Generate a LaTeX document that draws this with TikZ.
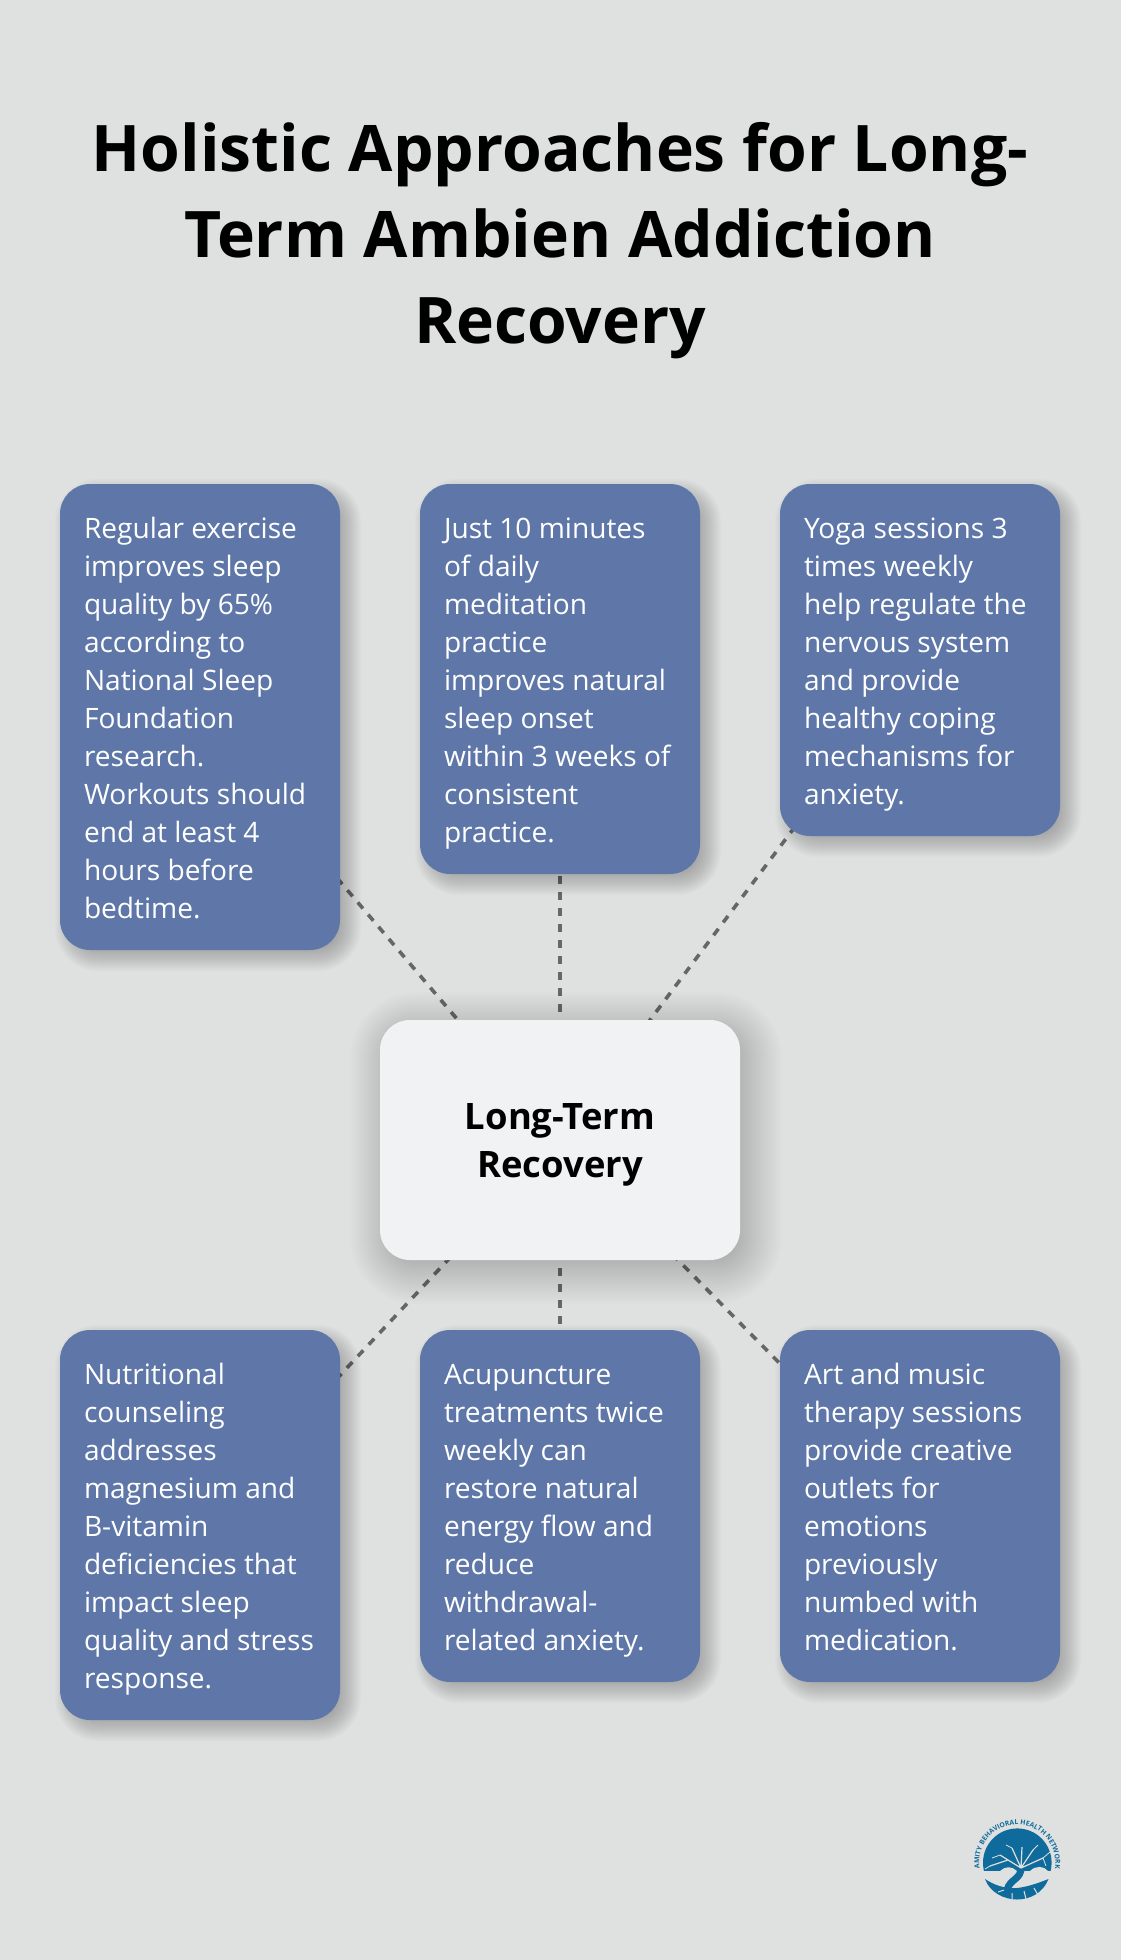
\documentclass[tikz,border=0pt]{standalone}
\usepackage{xcolor}
\usepackage{fontspec}
\setmainfont{Open Sans}
\usetikzlibrary{calc,decorations.text}
\definecolor{pagegray}{HTML}{DFE1E0}
\definecolor{cardblue}{HTML}{5E77A8}
\definecolor{hubwhite}{HTML}{F0F2F4}
\definecolor{linkgray}{HTML}{666666}
\definecolor{logoblue}{HTML}{0F6B9C}
\pgfdeclarelayer{background}
\pgfsetlayers{background,main}
% node name, shadow offset, half spread, step, opacity per step
\newcommand{\softshadow}[6]{%
  \foreach \s in {-#4,#5,...,#4}
    {\fill[black, opacity=#6, rounded corners=30pt+\s pt]
      ($(#1.north west)+(-\s+#2,-\s+#3)$) rectangle ($(#1.south east)+(\s+#2,\s+#3)$);}
}
\tikzset{
  cardbox/.style={anchor=north west, fill=cardblue, text=white, rounded corners=30pt, inner xsep=24pt, inner ysep=0pt,
    outer sep=0pt, text width=232pt, align=flush left, minimum width=280pt, minimum height=#1,
    font=\fontsize{28.1}{38}\selectfont,
    execute at begin node={\rule[-8pt]{0pt}{38pt}}, execute at end node={\rule[-8pt]{0pt}{38pt}}},
  hubbox/.style={anchor=north west, fill=hubwhite, text=black, rounded corners=30pt, inner sep=0pt, outer sep=0pt,
    text width=360pt, align=flush center, minimum width=360pt, minimum height=240pt,
    font=\fontsize{36.4}{48}\selectfont\bfseries,
    execute at begin node={\rule[-11pt]{0pt}{48pt}}, execute at end node={\rule[-11pt]{0pt}{48pt}}},
  linkdash/.style={linkgray, line width=3.6pt, dash pattern=on 8pt off 8pt},
}
\begin{document}
\begin{tikzpicture}[x=1pt, y=-1pt]
    \useasboundingbox (0,0) rectangle (1120,1960);
    \node[anchor=north, inner sep=0pt, text width=1000pt, align=flush center, font=\fontsize{64.2}{86}\selectfont\bfseries] (title) at (560,122)
        {Holistic Approaches for Long-\\Term Ambien Addiction\\Recovery};

    \node[cardbox=466pt] (exercise) at (60,484) {Regular exercise\\improves sleep\\quality by 65\%\\according to\\National Sleep\\Foundation\\research.\\Workouts should\\end at least 4\\hours before\\bedtime.};
    \node[cardbox=390pt] (meditation) at (420,484) {Just 10 minutes\\of daily\\meditation\\practice\\improves natural\\sleep onset\\within 3 weeks of\\consistent\\practice.};
    \node[cardbox=352pt] (yoga) at (780,484) {Yoga sessions 3\\times weekly\\help regulate the\\nervous system\\and provide\\healthy coping\\mechanisms for\\anxiety.};
    \node[hubbox] (hub) at (380,1020) {Long-Term\\Recovery};
    \node[cardbox=390pt] (nutrition) at (60,1330) {Nutritional\\counseling\\addresses\\magnesium and\\B-vitamin\\deficiencies that\\impact sleep\\quality and stress\\response.};
    \node[cardbox=352pt] (acupuncture) at (420,1330) {Acupuncture\\treatments twice\\weekly can\\restore natural\\energy flow and\\reduce\\withdrawal-\\related anxiety.};
    \node[cardbox=352pt] (art) at (780,1330) {Art and music\\therapy sessions\\provide creative\\outlets for\\emotions\\previously\\numbed with\\medication.};

    \begin{pgfonlayer}{background}
    \fill[pagegray] (-2,-2) rectangle (1122,1962);
    \foreach \card in {exercise,meditation,yoga,nutrition,acupuncture,art}
        \draw[linkdash] (hub.center) -- (\card.center);
    \foreach \card in {exercise,meditation,yoga,nutrition,acupuncture,art}
        {\softshadow{\card}{8}{8}{14}{-12.5}{0.015}}
    \softshadow{hub}{6}{8}{36}{-34}{0.008}
    \end{pgfonlayer}

    \path[decorate, decoration={text along path, text align=center, raise=0pt,
        text={|\fontsize{6.8}{7}\selectfont\bfseries\color{logoblue}|AMITY BEHAVIORAL HEALTH NETWORK}}]
        (980.6,1872.5) arc[start angle=165, end angle=375, radius=38];
    \begin{scope}
        \clip (975,1820) rectangle (1060,1870);
        \fill[logoblue] (1017.3,1862.7) circle (34.3);
    \end{scope}
    \fill[logoblue] (985,1879) .. controls (990,1893) and (1005,1899.5) .. (1017,1899.5) .. controls (1030,1899.5) and (1043,1893) .. (1048.5,1879)
        .. controls (1036,1884) and (1026,1887) .. (1017,1888) .. controls (1005,1889) and (994,1885) .. (985,1879);
    \fill[pagegray] (1000,1871) .. controls (1005,1866) and (1012,1866) .. (1017,1871) -- cycle;
    \fill[pagegray] (1030,1871) .. controls (1036,1865) and (1044,1866) .. (1048,1871) -- cycle;
    \draw[logoblue, line width=7pt] (1007,1890) .. controls (1010,1878) and (1022,1880) .. (1021,1866);
    \draw[pagegray, line width=1.2pt] (1021,1868) -- (1000,1855) (1021,1868) -- (1012,1848) (1021,1868) -- (1022,1847) (1021,1868) -- (1033,1850) (1021,1868) -- (1043,1858) (1008,1860) -- (990,1866);
    \draw[pagegray, line width=.8pt] (1000,1855) -- (992,1858) (1012,1848) -- (1006,1845) (1033,1850) -- (1038,1845) (1043,1858) -- (1050,1852) (1043,1858) -- (1046,1866) (990,1866) -- (985,1869);
    \draw[pagegray, line width=1pt] (998,1892) -- (1004,1890) (1012,1893) -- (1012,1899) (1024,1891) -- (1026,1899) (1034,1888) -- (1038,1895);
\end{tikzpicture}
\end{document}
